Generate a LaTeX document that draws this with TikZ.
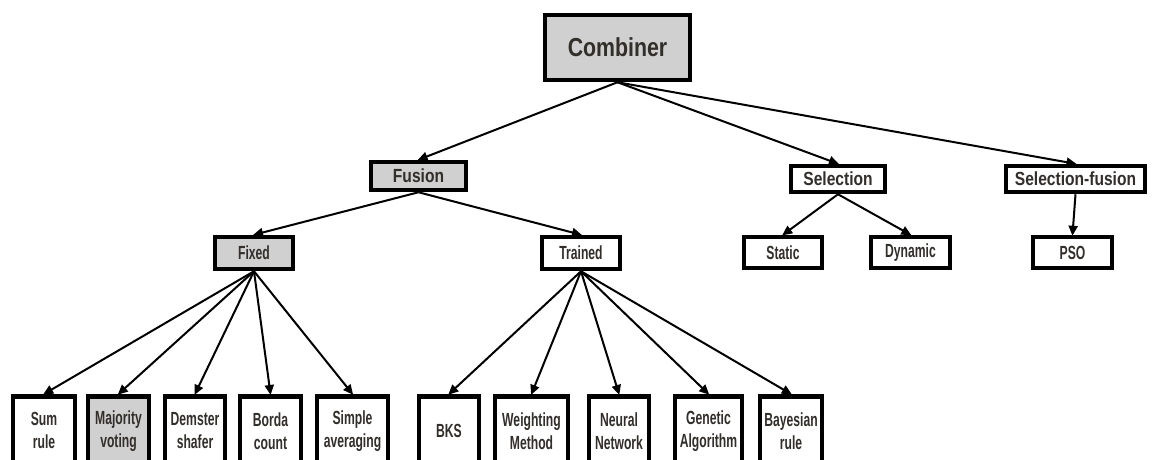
\documentclass[tikz,border=0pt]{standalone}
\usepackage{fontspec}
\usetikzlibrary{arrows.meta}
\newfontfamily\wideface[FakeStretch=0.82]{Liberation Sans}
\newfontfamily\narrowface[FakeStretch=0.64]{Liberation Sans}
\definecolor{ink}{RGB}{50,46,42}
\definecolor{boxgray}{RGB}{208,208,208}
\tikzset{
  box/.style={draw=black, line width=4.5pt, fill=white, inner sep=0pt,
    text=ink, align=center},
  shaded/.style={fill=boxgray},
  toplevel/.style={box, font=\wideface\bfseries\fontsize{26}{30}\selectfont},
  midlevel/.style={box, font=\wideface\bfseries\fontsize{19}{22}\selectfont, minimum height=26pt},
  sublevel/.style={box, font=\narrowface\bfseries\fontsize{19}{22}\selectfont, minimum height=31pt, minimum width=78pt},
  leaf/.style={box, font=\narrowface\bfseries\fontsize{19}{23}\selectfont, minimum height=69pt, anchor=north},
  link/.style={draw=black, line width=2pt, -{Triangle[length=10pt,width=9pt]}, shorten >=-1pt}
}
\begin{document}
\begin{tikzpicture}[x=1pt,y=-1pt]
\path[use as bounding box, clip] (0,0) rectangle (1152,459);

% root
\node[toplevel, shaded, minimum width=145pt, minimum height=65pt] (comb) at (617.5,47.5) {Combiner};

% second level
\node[midlevel, shaded, minimum width=95pt, minimum height=28pt] (fusion) at (418.5,176) {Fusion};
\node[midlevel, minimum width=94pt] (sel) at (838,179) {Selection};
\node[midlevel, minimum width=139pt] (selfus) at (1075.5,179) {Selection-fusion};

% third level
\node[sublevel, shaded, minimum height=32pt] (fixed) at (254,253) {Fixed};
\node[sublevel, minimum height=32pt] (trained) at (581,253) {Trained};
\node[sublevel] (static) at (783,252.5) {Static};
\node[sublevel, minimum width=79pt] (dynamic) at (910.5,252.5) {Dynamic};
\node[sublevel, minimum width=79pt] (pso) at (1072.5,252.5) {PSO};

% leaves under Fixed
\node[leaf, minimum width=62pt] (sum) at (44,394) {Sum\\rule};
\node[leaf, shaded, minimum width=61pt] (major) at (118.5,394) {Majority\\voting};
\node[leaf, minimum width=60pt] (demster) at (195,394) {Demster\\shafer};
\node[leaf, minimum width=61pt] (borda) at (270.5,394) {Borda\\count};
\node[leaf, minimum width=71pt] (simple) at (352.5,394) {Simple\\averaging};

% leaves under Trained
\node[leaf, minimum width=60pt] (bks) at (449,394) {BKS};
\node[leaf, minimum width=73pt] (weight) at (531.5,394) {Weighting\\Method};
\node[leaf, minimum width=60pt] (neural) at (619,394) {Neural\\Network};
\node[leaf, minimum width=67pt] (genetic) at (708.5,394) {Genetic\\Algorithm};
\node[leaf, minimum width=62pt] (bayes) at (791,394) {Bayesian\\rule};

% connectors
\draw[link] (comb.south) -- (fusion.north);
\draw[link] (comb.south) -- (sel.north);
\draw[link] (comb.south) -- (selfus.north);

\draw[link] (fusion.south) -- (fixed.north);
\draw[link] (fusion.south) -- (trained.north);

\draw[link] (sel.south) -- (static.north);
\draw[link] (sel.south) -- (dynamic.north);
\draw[link] (selfus.south) -- (pso.north);

\foreach \c in {sum,major,demster,borda,simple}
  \draw[link] (fixed.south) -- (\c.north);
\foreach \c in {bks,weight,neural,genetic,bayes}
  \draw[link] (trained.south) -- (\c.north);
\end{tikzpicture}
\end{document}
